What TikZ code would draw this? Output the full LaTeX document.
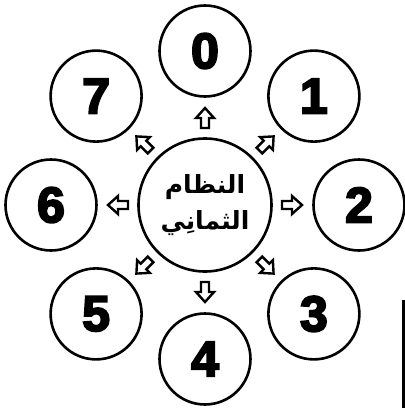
\documentclass[tikz,border=0pt]{standalone}
\usepackage{fontspec}
\newfontface\digitfont[FakeBold=4]{Liberation Sans Bold}
\newfontfamily\arabicfont[Script=Arabic]{DejaVu Sans}
\TeXXeTstate=1
\tikzset{
  numcircle/.style={circle, draw, line width=2.6pt, minimum size=91pt, inner sep=0pt,
    font=\digitfont\fontsize{50}{50}\selectfont},
  midcircle/.style={circle, draw, line width=2.6pt, minimum size=133pt, inner sep=0pt,
    align=center, font=\arabicfont\bfseries\fontsize{25}{36}\selectfont},
  hollowarrow/.pic={\draw[line width=2.4pt, line join=miter]
    (-10,-4) -- (0,-4) -- (0,-9) -- (10,0) -- (0,9) -- (0,4) -- (-10,4) -- cycle;}
}
\begin{document}
\begin{tikzpicture}[x=1pt, y=1pt]
\useasboundingbox (-205,-203) rectangle (200,205);
\node[midcircle] (mid) at (0,0) {\beginR النظام\endR\\\beginR الثمانِي\endR};
\foreach \k in {0,...,7}{
  \pgfmathsetmacro{\ang}{90-45*\k}
  \node[numcircle] (c\k) at (\ang:154) {\k};
  \pic[rotate=\ang] at (\ang:87) {hollowarrow};
}
\fill (197,-203) rectangle (200,-95);
\end{tikzpicture}
\end{document}
